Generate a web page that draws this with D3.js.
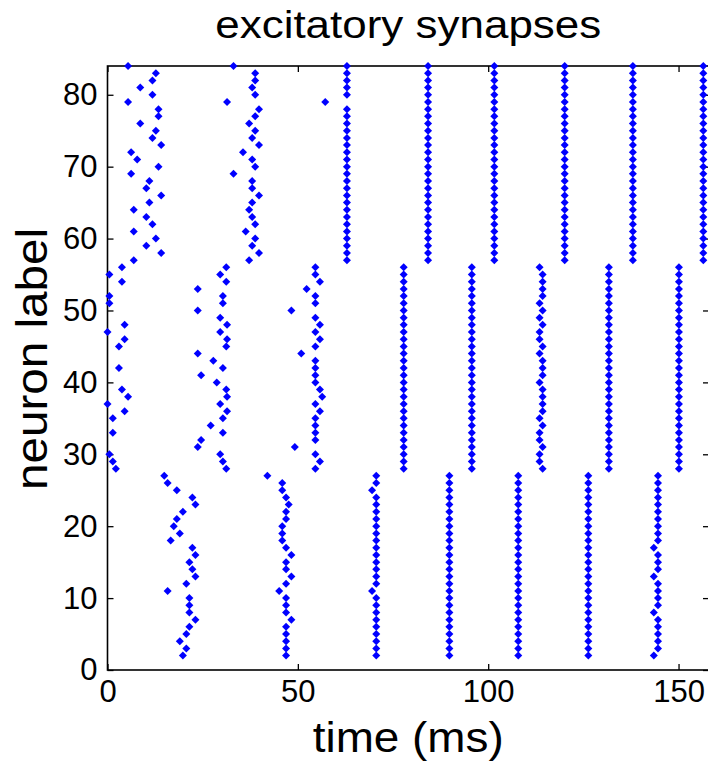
<!DOCTYPE html>
<html>
<head>
<meta charset="utf-8">
<script src="https://cdn.jsdelivr.net/npm/d3@7"></script>
<style>
  body { margin: 0; background: #fff; }
  text { font-family: "Liberation Sans", Arial, sans-serif; fill: #000; }
</style>
</head>
<body>
<div id="chart"></div>
<script>
// neuron ids per group (bottom to top)
const bottomNeurons = [2,3,4,5,6,7,8,9,10,11,12,13,14,15,16,17,18,19,20,21,22,23,24,25,26,27];
const middleNeurons = [28,29,30,31,32,33,34,35,36,37,38,39,40,41,42,43,44,45,46,47,48,49,50,51,52,53,54,55,56];
const topNeurons = [57,58,59,60,61,62,63,64,65,66,67,68,69,70,71,72,73,74,75,76,77,78,79,80,81,82,83,84];

// spike times (ms), one array per volley, aligned with the neuron ids; null = no spike
const bottomVolleys = [
  [19.8,20.7,19.0,20.7,21.5,23.1,21.5,21.5,21.5,15.8,20.7,23.1,22.3,21.5,23.1,22.3,16.6,19.0,17.4,18.2,19.8,23.1,22.3,18.2,15.8,14.9],
  [46.9,46.9,46.9,46.9,46.9,48.3,46.9,46.9,46.9,45.1,46.9,48.3,46.9,46.9,48.3,46.9,45.9,45.9,45.9,46.9,46.9,47.6,46.9,45.9,45.9,42.0],
  [70.6,70.6,70.6,70.6,70.6,70.6,70.6,70.6,70.6,69.5,70.6,70.6,70.6,70.6,70.6,70.6,70.6,70.6,70.6,70.6,70.6,70.6,70.6,69.5,70.6,70.6],
  [89.8,89.8,89.8,89.8,89.8,89.8,89.8,89.8,89.8,89.8,89.8,89.8,89.8,89.8,89.8,89.8,89.8,89.8,89.8,89.8,89.8,89.8,89.8,89.8,89.8,89.8],
  [107.9,107.9,107.9,107.9,107.9,107.9,107.9,107.9,107.9,107.9,107.9,107.9,107.9,107.9,107.9,107.9,107.9,107.9,107.9,107.9,107.9,107.9,107.9,107.9,107.9,107.9],
  [126.3,126.3,126.3,126.3,126.3,126.3,126.3,126.3,126.3,126.3,126.3,126.3,126.3,126.3,126.3,126.3,126.3,126.3,126.3,126.3,126.3,126.3,126.3,126.3,126.3,126.3],
  [143.5,144.6,144.6,144.6,144.6,144.6,143.5,144.6,144.6,144.6,144.6,143.5,144.6,144.6,144.6,143.5,144.6,144.6,144.6,144.6,144.6,144.6,144.6,144.6,144.6,144.6]
];

const middleVolleys = [
  [2.2,1.4,0.5,null,null,1.4,null,1.4,4.5,0,5.4,3.8,null,null,3.0,null,null,3.0,4.5,0,4.5,null,null,0.5,0.5,null,3.8,0.5,3.8],
  [31.2,30.3,29.6,23.7,24.6,30.3,27.1,30.3,31.4,29.6,31.4,31.2,28.7,24.6,30.3,27.8,23.7,31.2,31.4,29.6,31.4,29.6,23.7,30.3,30.3,23.7,31.2,29.6,31.2],
  [54.6,55.8,54.6,49.2,54.6,54.6,54.6,54.6,55.8,54.6,56.4,55.8,54.6,54.6,54.6,54.6,50.9,54.6,55.8,54.6,55.8,54.6,48.3,54.6,54.6,52.3,55.8,54.6,54.6],
  [77.8,77.8,77.8,77.8,77.8,77.8,77.8,77.8,77.8,77.8,77.8,77.8,77.8,77.8,77.8,77.8,77.8,77.8,77.8,77.8,77.8,77.8,77.8,77.8,77.8,77.8,77.8,77.8,77.8],
  [95.7,95.7,95.7,95.7,95.7,95.7,95.7,95.7,95.7,95.7,95.7,95.7,95.7,95.7,95.7,95.7,95.7,95.7,95.7,95.7,95.7,95.7,95.7,95.7,95.7,95.7,95.7,95.7,95.7],
  [114.3,113.5,113.5,114.3,113.5,113.5,114.3,113.5,114.3,114.3,114.3,114.3,113.5,114.3,114.3,114.3,113.5,114.3,113.5,113.5,114.3,113.5,114.3,113.5,114.3,114.3,114.3,114.3,113.5],
  [131.7,131.7,131.7,131.7,131.7,131.7,131.7,131.7,131.7,131.7,131.7,131.7,131.7,131.7,131.7,131.7,131.7,131.7,131.7,131.7,131.7,131.7,131.7,131.7,131.7,131.7,131.7,131.7,131.7],
  [150.1,150.1,150.1,150.1,150.1,150.1,150.1,150.1,150.1,150.1,150.1,150.1,150.1,150.1,150.1,150.1,150.1,150.1,150.1,150.1,150.1,150.1,150.1,150.1,150.1,150.1,150.1,150.1,150.1]
];

const topVolleys = [
  [6.9,14.1,10.2,12.7,6.9,11.8,10.2,6.9,11.0,14.1,10.2,11.0,6.2,13.4,7.8,6.2,14.1,11.8,12.7,8.6,13.4,13.4,5.4,11.8,8.6,11.8,12.7,5.4],
  [37.2,39.8,38.0,38.8,36.3,38.8,38.0,37.2,38.0,39.8,38.0,38.0,33.1,38.8,38.0,35.6,39.8,38.0,38.8,37.2,38.8,39.8,31.4,38.8,38.0,38.8,38.8,33.1],
  [62.9,62.9,62.9,62.9,62.9,62.9,62.9,62.9,62.9,62.9,62.9,62.9,62.9,62.9,62.9,62.9,62.9,62.9,62.9,62.9,62.9,62.9,57.2,62.9,62.9,62.9,62.9,62.9],
  [84.2,84.2,84.2,84.2,84.2,84.2,84.2,84.2,84.2,84.2,84.2,84.2,84.2,84.2,84.2,84.2,84.2,84.2,84.2,84.2,84.2,84.2,84.2,84.2,84.2,84.2,84.2,84.2],
  [101.6,101.6,101.6,101.6,101.6,101.6,101.6,101.6,101.6,101.6,101.6,101.6,101.6,101.6,101.6,101.6,101.6,101.6,101.6,101.6,101.6,101.6,101.6,101.6,101.6,101.6,101.6,101.6],
  [120.1,120.1,120.1,120.1,120.1,120.1,120.1,120.1,120.1,120.1,120.1,120.1,120.1,120.1,120.1,120.1,120.1,120.1,120.1,120.1,120.1,120.1,120.1,120.1,120.1,120.1,120.1,120.1],
  [138.0,138.0,138.0,138.0,138.0,138.0,138.0,138.0,138.0,138.0,138.0,138.0,138.0,138.0,138.0,138.0,138.0,138.0,138.0,138.0,138.0,138.0,138.0,138.0,138.0,138.0,138.0,138.0],
  [156.5,156.5,156.5,156.5,156.5,156.5,156.5,156.5,156.5,156.5,156.5,156.5,156.5,156.5,156.5,156.5,156.5,156.5,156.5,156.5,156.5,156.5,156.5,156.5,156.5,156.5,156.5,156.5]
];

const xTicks = [0, 50, 100, 150];
const yTicks = [0, 10, 20, 30, 40, 50, 60, 70, 80];
const titleText = 'excitatory synapses';
const xLabel = 'time (ms)';
const yLabel = 'neuron label';

const width = 708, height = 769;
const margin = {top: 66, right: -1, bottom: 99, left: 107.5};
const tick_len = 6;
const font_size = 31;

const svg = d3.select('#chart').append('svg')
  .attr('width', width)
  .attr('height', height);

const x = d3.scaleLinear().domain([0, 158]).range([margin.left, width - margin.right]);
const y = d3.scaleLinear().domain([0, 84]).range([height - margin.bottom, margin.top]);

// flatten groups into spike list
const spikes = [];
[[bottomNeurons, bottomVolleys], [middleNeurons, middleVolleys], [topNeurons, topVolleys]]
  .forEach(([neurons, volleys]) => {
    volleys.forEach(times => {
      times.forEach((t, i) => {
        if (t !== null) spikes.push({t, n: neurons[i]});
      });
    });
  });

// axes (ticks point inward, MATLAB style box)
function styleAxis(g) {
  g.select('.domain').remove();
  g.selectAll('line').attr('stroke', '#000').attr('stroke-width', 1.3);
  g.selectAll('text')
    .style('font-size', font_size + 'px')
    .style('font-family', '"Liberation Sans", Arial, sans-serif')
    .attr('fill', '#000');
}

svg.append('g')
  .attr('transform', `translate(0,${y(0)})`)
  .call(d3.axisBottom(x).tickValues(xTicks).tickSizeInner(-tick_len).tickSizeOuter(0).tickPadding(10))
  .call(styleAxis);

svg.append('g')
  .attr('transform', `translate(0,${y(84)})`)
  .call(d3.axisTop(x).tickValues(xTicks).tickSizeInner(-tick_len).tickSizeOuter(0).tickFormat(''))
  .call(styleAxis);

svg.append('g')
  .attr('transform', `translate(${x(0)},0)`)
  .call(d3.axisLeft(y).tickValues(yTicks).tickSizeInner(-tick_len).tickSizeOuter(0).tickPadding(10))
  .call(styleAxis);

svg.append('g')
  .attr('transform', `translate(${x(158)},0)`)
  .call(d3.axisRight(y).tickValues(yTicks).tickSizeInner(-tick_len).tickSizeOuter(0).tickFormat(''))
  .call(styleAxis);

// box
svg.append('rect')
  .attr('x', x(0))
  .attr('y', y(84))
  .attr('width', x(158) - x(0))
  .attr('height', y(0) - y(84))
  .attr('fill', 'none')
  .attr('stroke', '#000')
  .attr('stroke-width', 1.6);

// spikes as small diamonds
const marker = d3.symbol().type(d3.symbolSquare).size(32);
svg.append('g')
  .selectAll('path.spike')
  .data(spikes)
  .join('path')
  .attr('class', 'spike')
  .attr('d', marker)
  .attr('transform', d => `translate(${x(d.t)},${y(d.n)}) rotate(45)`)
  .attr('fill', '#0000ff');

// title and labels
svg.append('text')
  .attr('x', (x(0) + x(158)) / 2)
  .attr('y', 38)
  .attr('text-anchor', 'middle')
  .style('font-size', '38px')
  .attr('textLength', 386)
  .attr('lengthAdjust', 'spacingAndGlyphs')
  .text(titleText);

svg.append('text')
  .attr('x', (x(0) + x(158)) / 2)
  .attr('y', 752)
  .attr('text-anchor', 'middle')
  .style('font-size', '43px')
  .attr('textLength', 191)
  .attr('lengthAdjust', 'spacingAndGlyphs')
  .text(xLabel);

svg.append('text')
  .attr('transform', 'translate(47,359) rotate(-90)')
  .attr('text-anchor', 'middle')
  .style('font-size', '44px')
  .attr('textLength', 262)
  .attr('lengthAdjust', 'spacingAndGlyphs')
  .text(yLabel);
</script>
</body>
</html>
